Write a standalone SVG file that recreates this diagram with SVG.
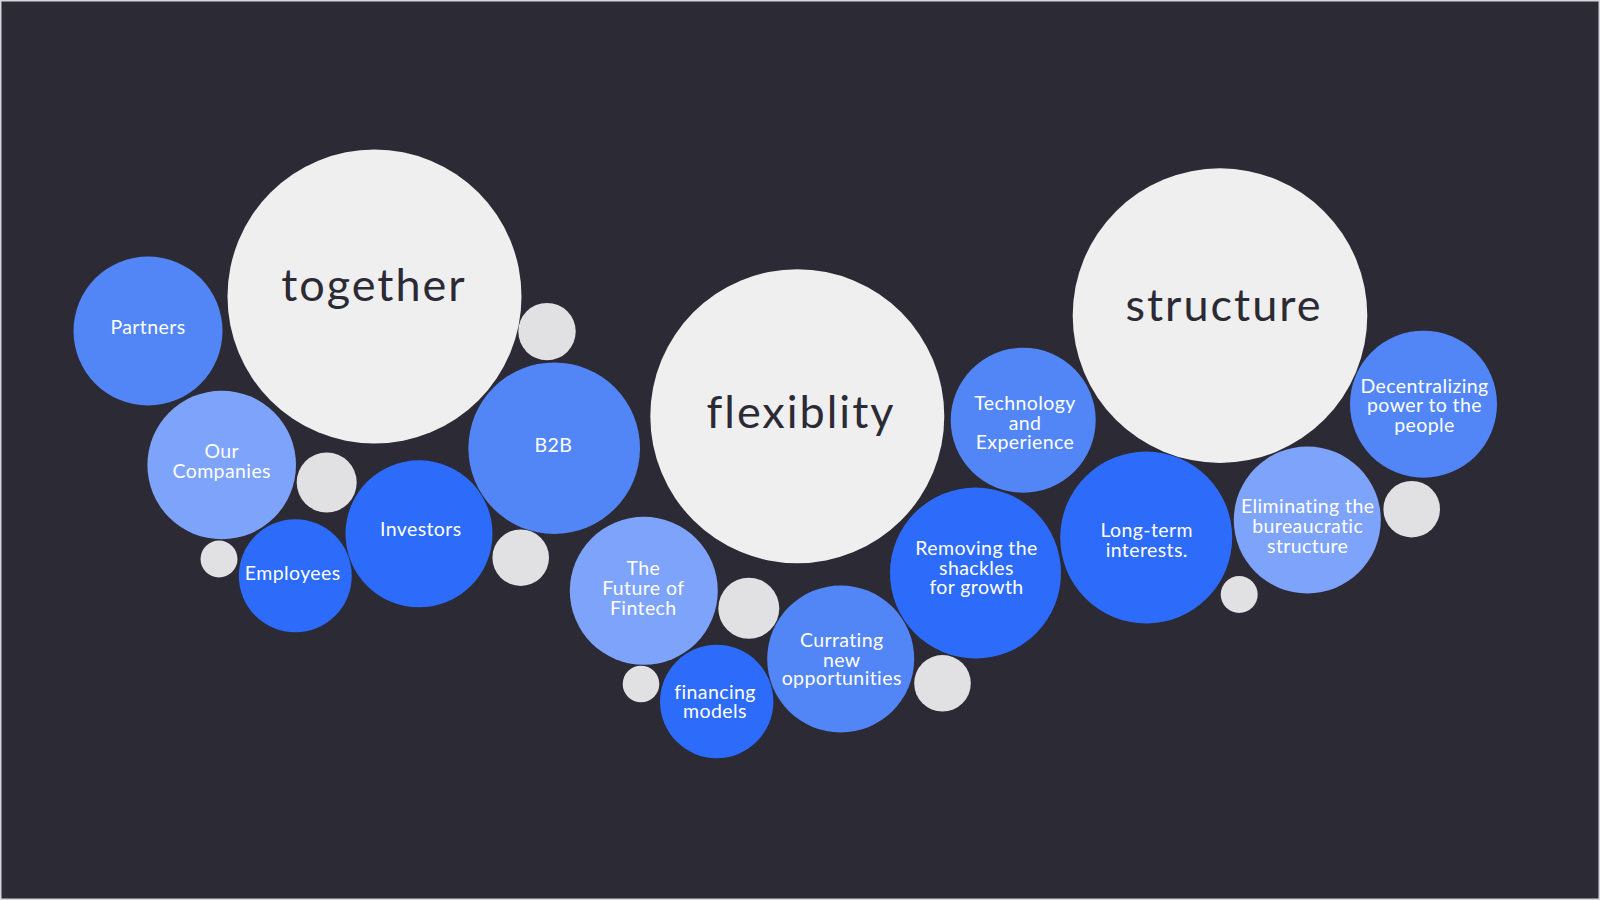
<svg xmlns="http://www.w3.org/2000/svg" width="1600" height="900" viewBox="0 0 1600 900">
<style>
.big{fill:#efefef}
.dot{fill:#e1e1e3}
.b1{fill:#5286f7}
.b2{fill:#7ea3fa}
.b3{fill:#2d6bfb}
.lbl{font-family:Lato,"Liberation Sans",sans-serif;font-size:19.5px;letter-spacing:0.4px;fill:#ffffff;text-anchor:middle}
.key{font-family:Lato,"Liberation Sans",sans-serif;font-size:45px;letter-spacing:2px;fill:#2b2a35;text-anchor:middle}
</style>
<rect x="0" y="0" width="1600" height="900" fill="#2b2a35"/>
<rect x="0.75" y="0.75" width="1598.5" height="898.5" fill="none" stroke="#d6d6d8" stroke-width="1.5"/>
<g id="connectors"/>
<g id="together"><circle class="big" cx="374.5" cy="296.5" r="147"/><text class="key" x="374" y="301">together</text></g>
<g id="flexiblity"><circle class="big" cx="797.3" cy="416.3" r="147"/><text class="key" x="801" y="428">flexiblity</text></g>
<g id="structure"><circle class="big" cx="1220" cy="315.6" r="147.3"/><text class="key" x="1224" y="321">structure</text></g>
<g id="partners"><circle class="b1" cx="148" cy="331" r="74.5"/><text class="lbl" x="148" y="334">Partners</text></g>
<g id="our-companies"><circle class="b2" cx="221.7" cy="465" r="74.3"/><text class="lbl" x="221.7" y="458.3">Our</text><text class="lbl" x="221.7" y="477.7">Companies</text></g>
<g id="dot1"><circle class="dot" cx="326.7" cy="482.5" r="30"/></g>
<g id="dot2"><circle class="dot" cx="219" cy="559" r="18.5"/></g>
<g id="employees"><circle class="b3" cx="295.3" cy="575.8" r="56.5"/><text class="lbl" x="292.7" y="580">Employees</text></g>
<g id="investors"><circle class="b3" cx="419" cy="533.8" r="73.5"/><text class="lbl" x="420.8" y="536">Investors</text></g>
<g id="dot3"><circle class="dot" cx="520.7" cy="557.7" r="28.3"/></g>
<g id="b2b"><circle class="b1" cx="554.2" cy="448.2" r="85.8"/><text class="lbl" x="553.3" y="451.7">B2B</text></g>
<g id="dot4"><circle class="dot" cx="547" cy="331.6" r="28.7"/></g>
<g id="future-fintech"><circle class="b2" cx="643.8" cy="590.8" r="74"/><text class="lbl" x="643.3" y="575">The</text><text class="lbl" x="643.3" y="595">Future of</text><text class="lbl" x="643.3" y="615">Fintech</text></g>
<g id="dot5"><circle class="dot" cx="748.8" cy="608.3" r="30.5"/></g>
<g id="dot6"><circle class="dot" cx="641" cy="684" r="18.3"/></g>
<g id="financing"><circle class="b3" cx="716.7" cy="701.5" r="56.7"/><text class="lbl" x="715" y="699.3">financing</text><text class="lbl" x="715" y="718.3">models</text></g>
<g id="currating"><circle class="b1" cx="840.7" cy="659" r="73.5"/><text class="lbl" x="841.7" y="646.7">Currating</text><text class="lbl" x="841.7" y="666.7">new</text><text class="lbl" x="841.7" y="685">opportunities</text></g>
<g id="dot7"><circle class="dot" cx="942.5" cy="683.3" r="28.3"/></g>
<g id="removing"><circle class="b3" cx="975.5" cy="573" r="85.5"/><text class="lbl" x="976.5" y="555">Removing the</text><text class="lbl" x="976.5" y="574.5">shackles</text><text class="lbl" x="976.5" y="594">for growth</text></g>
<g id="technology"><circle class="b1" cx="1023.2" cy="420.2" r="72.5"/><text class="lbl" x="1025" y="410">Technology</text><text class="lbl" x="1025" y="430">and</text><text class="lbl" x="1025" y="449.3">Experience</text></g>
<g id="decentralizing"><circle class="b1" cx="1423.5" cy="404.2" r="73.5"/><text class="lbl" x="1424.5" y="393.3">Decentralizing</text><text class="lbl" x="1424.5" y="412.3">power to the</text><text class="lbl" x="1424.5" y="432">people</text></g>
<g id="long-term"><circle class="b3" cx="1146.2" cy="537.5" r="86"/><text class="lbl" x="1146.7" y="537.3">Long-term</text><text class="lbl" x="1146.7" y="557.3">interests.</text></g>
<g id="eliminating"><circle class="b2" cx="1307.3" cy="520" r="73.5"/><text class="lbl" x="1307.7" y="513.3">Eliminating the</text><text class="lbl" x="1307.7" y="533.3">bureaucratic</text><text class="lbl" x="1307.7" y="552.7">structure</text></g>
<g id="dot8"><circle class="dot" cx="1411.7" cy="509.2" r="28.3"/></g>
<g id="dot9"><circle class="dot" cx="1239.2" cy="594.5" r="18.5"/></g>
</svg>
